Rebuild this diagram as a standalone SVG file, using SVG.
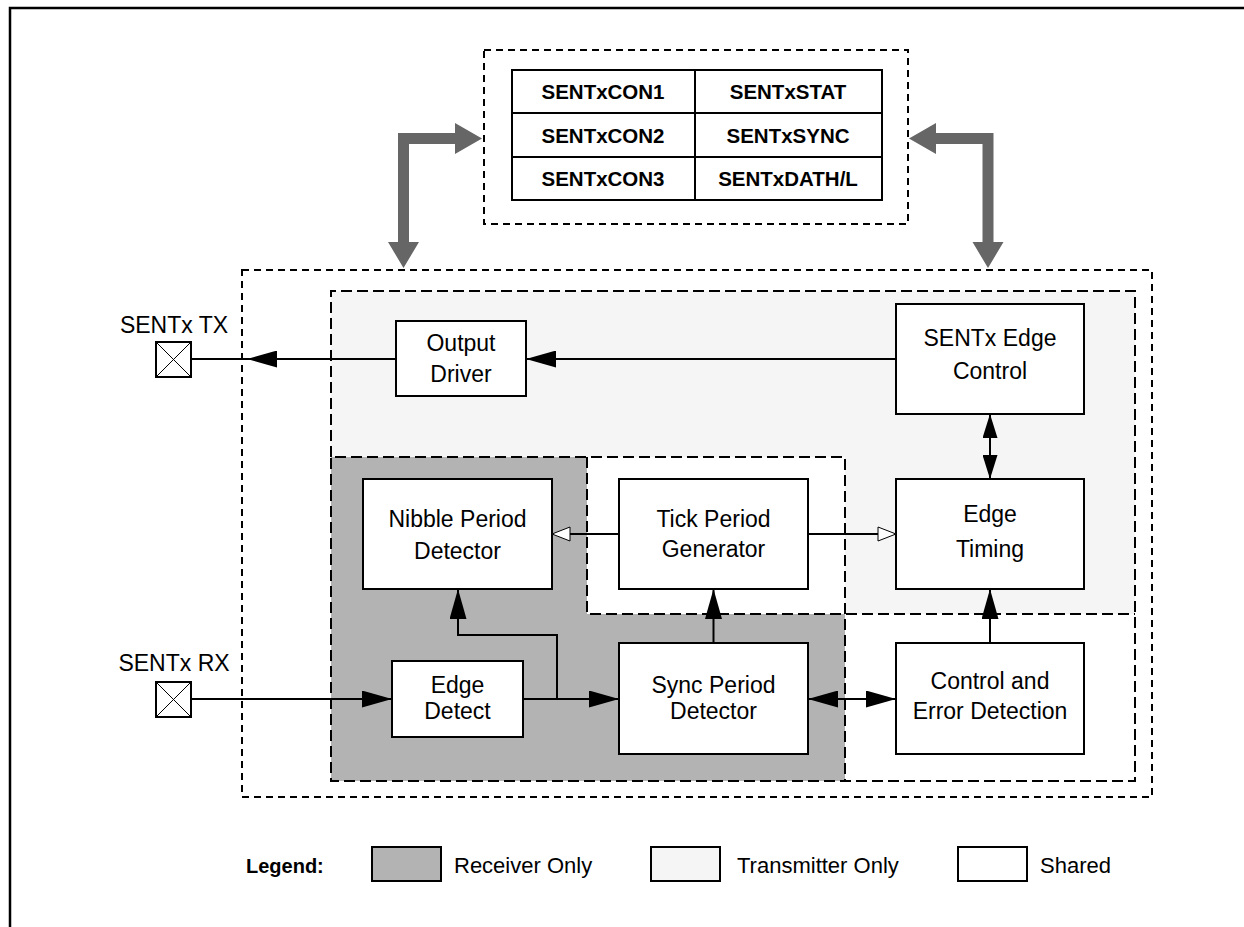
<svg xmlns="http://www.w3.org/2000/svg" width="1244" height="927" viewBox="0 0 1244 927">
<style>
text{font-family:"Liberation Sans",Arial,sans-serif;fill:#000}
.t{font-size:23px;text-anchor:middle}
.r{font-size:20.5px;font-weight:bold;text-anchor:middle}
.lg{font-size:22px}
.box{fill:#fff;stroke:#000;stroke-width:2}
.ln{fill:none;stroke:#000;stroke-width:2}
.dot{fill:none;stroke:#000;stroke-width:2;stroke-dasharray:7 5}
.dash{fill:none;stroke:#000;stroke-width:2;stroke-dasharray:11 5}
.thin{stroke:#000;stroke-width:1}
</style>
<defs>
<marker id="ah" markerUnits="userSpaceOnUse" markerWidth="30" markerHeight="17" refX="30" refY="8.5" orient="auto-start-reverse" viewBox="0 0 30 17"><path d="M0,0 L30,8.5 L0,17 z" fill="#000"/></marker>
<marker id="ahs" markerUnits="userSpaceOnUse" markerWidth="24" markerHeight="15" refX="24" refY="7.5" orient="auto-start-reverse" viewBox="0 0 24 15"><path d="M0,0 L24,7.5 L0,15 z" fill="#000"/></marker>
<marker id="oa" markerUnits="userSpaceOnUse" markerWidth="20" markerHeight="16" refX="19" refY="8" orient="auto" viewBox="0 0 20 16"><path d="M1,1 L19,8 L1,15 z" fill="#fff" stroke="#000" stroke-width="1"/></marker>
</defs>

<g id="frame">
<path d="M10,927 L10,8 L1244,8" fill="none" stroke="#000" stroke-width="2.5"/>
</g>

<g id="regions">
<polygon points="331,291 1135,291 1135,614 845,614 845,457 331,457" fill="#f5f5f5"/>
<polygon points="331,457 587,457 587,614 845,614 845,781 331,781" fill="#b3b3b3"/>
<rect x="587" y="457" width="258" height="157" fill="#fff"/>
<rect x="845" y="614" width="290" height="167" fill="#fff"/>
<path class="dash" d="M331,457 L331,291 L1135,291 L1135,781 L331,781 L331,457 L845,457 L845,781 M587,457 L587,614 L1135,614"/>
<rect class="dot" x="242" y="270" width="910" height="527"/>
</g>

<g id="registers">
<rect class="dot" x="484" y="50" width="424" height="174"/>
<rect class="box" x="512" y="70" width="370" height="130"/>
<path class="ln" d="M512,113 H882 M512,157 H882 M695,70 V200"/>
<text class="r" x="603" y="99">SENTxCON1</text>
<text class="r" x="788" y="99">SENTxSTAT</text>
<text class="r" x="603" y="143">SENTxCON2</text>
<text class="r" x="788" y="143">SENTxSYNC</text>
<text class="r" x="603" y="186">SENTxCON3</text>
<text class="r" x="788" y="186">SENTxDATH/L</text>
</g>

<g id="bus-arrows" fill="#666">
<polygon points="398,242 398,133 455,133 455,123 482,138.5 455,154 455,144 409,144 409,242 419,242 403.5,268 388,242"/>
<polygon points="993.5,242 993.5,133 936,133 936,123 909,138.5 936,154 936,144 982.5,144 982.5,242 972.5,242 988,268 1003.5,242"/>
</g>

<g id="pin-tx">
<text class="t" x="174" y="333">SENTx TX</text>
<rect class="box" x="156" y="342" width="35" height="35"/>
<path class="thin" d="M156,342 L191,377 M191,342 L156,377"/>
</g>
<g id="pin-rx">
<text class="t" x="174" y="671">SENTx RX</text>
<rect class="box" x="156" y="682" width="35" height="35"/>
<path class="thin" d="M156,682 L191,717 M191,682 L156,717"/>
</g>

<g id="output-driver">
<rect class="box" x="396" y="321" width="130" height="75"/>
<text class="t" x="461" y="351">Output</text>
<text class="t" x="461" y="382">Driver</text>
</g>
<g id="edge-control">
<rect class="box" x="896" y="304" width="188" height="110"/>
<text class="t" x="990" y="346">SENTx Edge</text>
<text class="t" x="990" y="379">Control</text>
</g>
<g id="nibble">
<rect class="box" x="363" y="479" width="189" height="110"/>
<text class="t" x="457.5" y="527">Nibble Period</text>
<text class="t" x="457.5" y="559">Detector</text>
</g>
<g id="tick">
<rect class="box" x="619" y="479" width="189" height="110"/>
<text class="t" x="713.5" y="527">Tick Period</text>
<text class="t" x="713.5" y="557">Generator</text>
</g>
<g id="edge-timing">
<rect class="box" x="896" y="479" width="188" height="110"/>
<text class="t" x="990" y="522">Edge</text>
<text class="t" x="990" y="557">Timing</text>
</g>
<g id="edge-detect">
<rect class="box" x="392" y="661" width="131" height="76"/>
<text class="t" x="457.5" y="693">Edge</text>
<text class="t" x="457.5" y="719">Detect</text>
</g>
<g id="sync">
<rect class="box" x="619" y="643" width="189" height="111"/>
<text class="t" x="713.5" y="693">Sync Period</text>
<text class="t" x="713.5" y="719">Detector</text>
</g>
<g id="control-error">
<rect class="box" x="896" y="643" width="188" height="111"/>
<text class="t" x="990" y="689">Control and</text>
<text class="t" x="990" y="719">Error Detection</text>
</g>

<g id="connectors">
<path class="ln" d="M896,359 H526" marker-end="url(#ah)"/>
<path class="ln" d="M396,359 H247" marker-end="url(#ah)"/>
<path class="ln" d="M247,359 H191"/>
<path class="ln" d="M990,414 V479" marker-start="url(#ahs)" marker-end="url(#ahs)"/>
<path class="ln" d="M619,534 H552" marker-end="url(#oa)"/>
<path class="ln" d="M808,534 H896" marker-end="url(#oa)"/>
<path class="ln" d="M191,699 H392" marker-end="url(#ah)"/>
<path class="ln" d="M523,699 H619" marker-end="url(#ah)"/>
<path class="ln" d="M557,699 V635 H458 V589" marker-end="url(#ah)"/>
<path class="ln" d="M713.5,643 V589" marker-end="url(#ah)"/>
<path class="ln" d="M990,643 V589" marker-end="url(#ah)"/>
<path class="ln" d="M808,699 H896" marker-start="url(#ah)" marker-end="url(#ah)"/>
</g>

<g id="legend">
<text x="246" y="873" font-size="20" font-weight="bold">Legend:</text>
<rect x="372" y="847" width="69" height="34" fill="#b3b3b3" stroke="#000" stroke-width="2"/>
<text class="lg" x="454" y="873">Receiver Only</text>
<rect x="651" y="847" width="69" height="34" fill="#f5f5f5" stroke="#000" stroke-width="2"/>
<text class="lg" x="737" y="873">Transmitter Only</text>
<rect x="958" y="847" width="69" height="34" fill="#fff" stroke="#000" stroke-width="2"/>
<text class="lg" x="1040" y="873">Shared</text>
</g>
</svg>
